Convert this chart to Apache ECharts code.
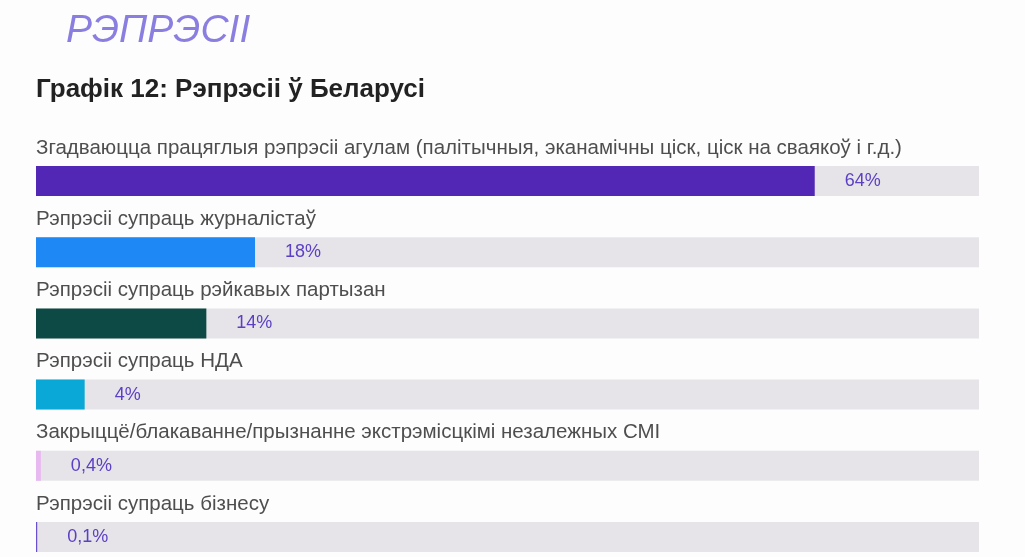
<!DOCTYPE html>
<html><head><meta charset="utf-8">
<script src="https://cdn.jsdelivr.net/npm/echarts@6/dist/echarts.min.js"></script>
<style>html,body{margin:0;background:#fdfdfd}#c{width:1025px;height:557px}</style>
</head><body><div id="c"></div>
<script>
var categories = [
  'Згадваюцца працяглыя рэпрэсіі агулам (палітычныя, эканамічны ціск, ціск на сваякоў і г.д.)',
  'Рэпрэсіі супраць журналістаў',
  'Рэпрэсіі супраць рэйкавых партызан',
  'Рэпрэсіі супраць НДА',
  'Закрыццё/блакаванне/прызнанне экстрэмісцкімі незалежных СМІ',
  'Рэпрэсіі супраць бізнесу'
];
var values = [64, 18, 14, 4, 0.4, 0.1];
var valueLabels = ['64%', '18%', '14%', '4%', '0,4%', '0,1%'];
var barColors = ['#5327b5', '#1e88f5', '#0d4a45', '#0aa8d6', '#e8b8f0', '#6a4fcf'];

var chart = echarts.init(document.getElementById('c'));
chart.setOption({
  backgroundColor: '#fdfdfd',
  title: [{
    text: 'РЭПРЭСІІ', left: 61, top: 7,
    textStyle: {fontFamily: 'Liberation Sans', fontStyle: 'italic', fontWeight: 'normal', fontSize: 39, color: '#8a7fe0'}
  }, {
    text: 'Графік 12: Рэпрэсіі ў Беларусі', left: 31, top: 72,
    textStyle: {fontFamily: 'Liberation Sans', fontWeight: 'bold', fontSize: 26, color: '#222'}
  }],
  grid: {left: 36, top: 181, height: 356, width: 943},
  xAxis: {type: 'value', min: 0, max: 77.5, show: false},
  yAxis: {
    type: 'category', data: categories, inverse: true, boundaryGap: false,
    axisLine: {show: false}, axisTick: {show: false}, axisLabel: {show: false}
  },
  series: [{
    type: 'bar', barWidth: 30,
    showBackground: true, backgroundStyle: {color: '#e6e4e8'},
    data: values.map(function (v, i) { return {value: v, itemStyle: {color: barColors[i]}}; }),
    label: {
      show: true, position: 'right', distance: 30, fontSize: 18, color: '#5b3fc4',
      fontFamily: 'Liberation Sans',
      formatter: function (p) { return valueLabels[p.dataIndex]; }
    }
  }, {
    type: 'scatter', symbolSize: 0, silent: true,
    data: categories.map(function (c, i) { return [0, i]; }),
    label: {
      show: true, position: 'right', distance: 0, offset: [0, -33],
      fontSize: 20.5, color: '#222', fontFamily: 'Liberation Sans',
      formatter: function (p) { return categories[p.dataIndex]; }
    }
  }]
});
</script></body></html>
